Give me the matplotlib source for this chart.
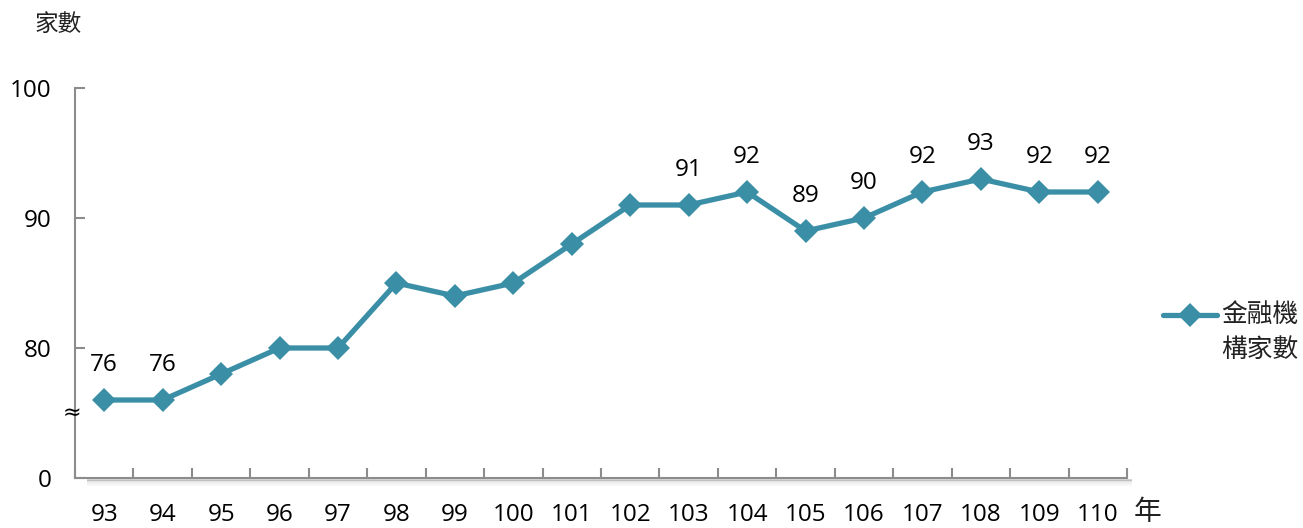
import matplotlib
matplotlib.use("Agg")
import matplotlib.pyplot as plt
import matplotlib.ticker as mticker
from matplotlib.lines import Line2D
from matplotlib.transforms import offset_copy

years = ["93", "94", "95", "96", "97", "98", "99", "100", "101", "102",
         "103", "104", "105", "106", "107", "108", "109", "110"]
counts = [76, 76, 78, 80, 80, 85, 84, 85, 88, 91, 91, 92, 89, 90, 92, 93, 92, 92]
labeled_years = ["93", "94", "103", "104", "105", "106", "107", "108", "109", "110"]
ytick_values = [70, 80, 90, 100]
ytick_labels = ["0", "80", "90", "100"]
series_name = ["金融機", "構家數"]

color = "#3A8FA6"
axis_color = "#8C8C8C"
num_font = ["Open Sans", "DejaVu Sans"]
cjk_font = ["Noto Sans CJK TC", "DejaVu Sans"]
NUM_SIZE = 17.5

fig = plt.figure(figsize=(13.03, 5.28), dpi=100)
W, H = 1303, 528
ax = fig.add_axes([75 / W, 1 - 478 / H, (1127 - 75) / W, (478 - 88) / H])

x = list(range(len(years)))
line, = ax.plot(x, counts, color=color, lw=3.8, marker="D", markersize=12,
                markeredgewidth=0, solid_joinstyle="miter", zorder=5)

for xi, yr, v in zip(x, years, counts):
    if yr in labeled_years:
        ax.annotate(str(v), (xi, v), xytext=(0, 25), textcoords="offset points",
                    ha="center", va="center", fontsize=NUM_SIZE, family=num_font)

ax.set_xlim(-0.5, len(years) - 0.5)
ax.set_ylim(70, 100)

for s in ["top", "right"]:
    ax.spines[s].set_visible(False)
for s in ["left", "bottom"]:
    ax.spines[s].set_color(axis_color)
    ax.spines[s].set_linewidth(1.5)

ax.set_xticks(x)
ax.set_xticklabels(years, family=num_font, fontsize=NUM_SIZE)
ax.xaxis.set_minor_locator(mticker.FixedLocator([i - 0.5 for i in range(len(years) + 1)]))
ax.tick_params(axis="x", which="major", length=0, pad=18)
ax.tick_params(axis="x", which="minor", direction="in", length=7, width=1.5,
               color=axis_color)

ax.set_yticks(ytick_values)
ax.set_yticklabels(ytick_labels, family=num_font, fontsize=NUM_SIZE)
ax.tick_params(axis="y", direction="in", length=7, width=1.5, color=axis_color, pad=17)

# soft shadow below x-axis
for i, a in enumerate([0.16, 0.10, 0.06, 0.03]):
    tr = offset_copy(ax.transData, fig=fig, x=3, y=-(i + 1) * 1.2, units="points")
    ax.plot([-0.35, len(years) - 0.5], [70, 70], color="black", alpha=a, lw=1.5,
            transform=tr, clip_on=False, zorder=0)

# axis break marker
ax.text(-0.55, 75.0, "≈", ha="center", va="center", fontsize=16,
        family=["DejaVu Sans"], transform=ax.transData, clip_on=False)

fig.text(35 / W, 1 - 24 / H, "家數", ha="left", va="center", fontsize=17,
         family=cjk_font, color="#222222")
fig.text(1148 / W, 1 - 512 / H, "年", ha="center", va="center", fontsize=20,
         family=cjk_font, color="#222222")

# legend (drawn manually so the key aligns with the first text line)
fig.add_artist(Line2D([1163 / W, 1217 / W], [1 - 315 / H, 1 - 315 / H],
                      transform=fig.transFigure, color=color, lw=3.8,
                      solid_capstyle="round"))
fig.add_artist(Line2D([1190 / W], [1 - 315 / H], transform=fig.transFigure,
                      color=color, marker="D", markersize=12, markeredgewidth=0))
fig.text(1221 / W, 1 - 315 / H, series_name[0], ha="left", va="center",
         fontsize=18.5, family=cjk_font, color="#222222")
fig.text(1221 / W, 1 - 350 / H, series_name[1], ha="left", va="center",
         fontsize=18.5, family=cjk_font, color="#222222")

fig.savefig("out.png", dpi=100)
